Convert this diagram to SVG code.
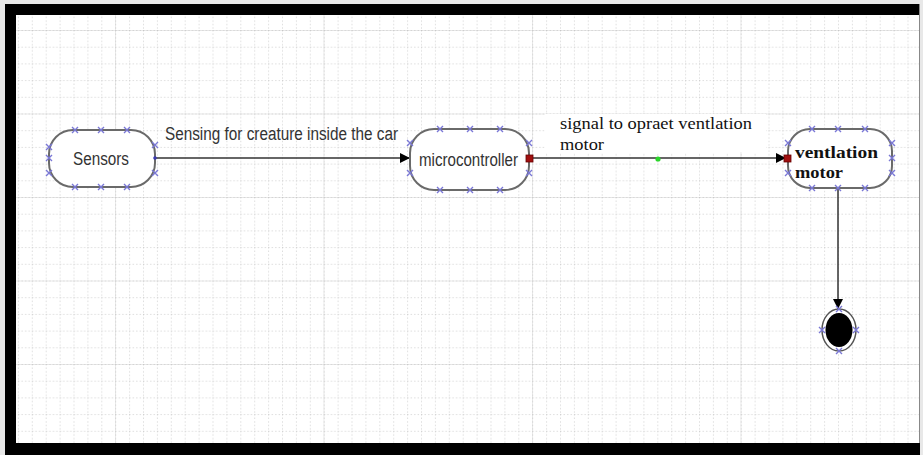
<svg xmlns="http://www.w3.org/2000/svg" width="923" height="455" viewBox="0 0 923 455">
  <defs>
    <pattern id="grid" x="4" y="13.3" width="13.9" height="16.7" patternUnits="userSpaceOnUse">
      <path d="M0 0 V16.7 M0 0 H13.9" fill="none" stroke="#bcbcbc" stroke-width="1" stroke-dasharray="1.5 2"/>
    </pattern>
    <pattern id="major" x="115" y="30" width="208.5" height="83.5" patternUnits="userSpaceOnUse">
      <path d="M0 0 V83.5 M0 0 H208.5" fill="none" stroke="#e4e4e4" stroke-width="1.5"/>
    </pattern>
    <marker id="arrow" viewBox="0 0 10 10" refX="10" refY="5" markerWidth="10" markerHeight="10" markerUnits="userSpaceOnUse" orient="auto">
      <path d="M0 0 L10 5 L0 10 Z" fill="#000"/>
    </marker>
    <g id="px">
      <path d="M-3 -3 L3 3 M-3 3 L3 -3" stroke="#7a78d6" stroke-width="1.4" fill="none"/>
    </g>
  </defs>
  <style>
    .state { fill: #fff; stroke: #6a6a6a; stroke-width: 2; }
    .sans { font-family: "Liberation Sans", Arial, sans-serif; font-size: 18px; fill: #333; }
    .serif { font-family: "Liberation Serif", "Times New Roman", serif; font-size: 16px; fill: #111; }
    .edge { fill: none; stroke: #333; stroke-width: 1.5; }
    .port { fill: #a01010; stroke: #600; stroke-width: 0.8; }
  </style>

  <!-- frame and canvas -->
  <rect x="0" y="0" width="923" height="455" fill="#e8e8e8"/>
  <rect x="5" y="4" width="915" height="451" fill="#000"/>
  <rect x="16" y="15" width="903" height="428" fill="#fff"/>
  <rect x="16" y="15" width="903" height="428" fill="url(#major)"/>
  <rect x="16" y="15" width="903" height="428" fill="url(#grid)"/>
  <line x1="919.5" y1="4" x2="919.5" y2="443" stroke="#888" stroke-width="1"/>

  <!-- connectors -->
  <g id="connectors">
    <line class="edge" x1="155" y1="158" x2="410" y2="158" marker-end="url(#arrow)"/>
    <text class="sans" x="165" y="140" textLength="233" lengthAdjust="spacingAndGlyphs">Sensing for creature inside the car</text>

    <line class="edge" x1="533" y1="158" x2="786" y2="158" marker-end="url(#arrow)"/>
    <rect x="545" y="114" width="221" height="38" fill="#fff"/>
    <text class="serif" x="560" y="129" textLength="192" lengthAdjust="spacingAndGlyphs">signal to opraet ventlation</text>
    <text class="serif" x="560" y="150" textLength="44" lengthAdjust="spacingAndGlyphs">motor</text>
    <circle cx="658" cy="159" r="2.6" fill="#2bd62b"/>

    <line class="edge" x1="838" y1="188" x2="838" y2="309" marker-end="url(#arrow)"/>
  </g>

  <!-- Sensors -->
  <g id="sensors">
    <rect class="state" x="49" y="130" width="106" height="57" rx="24" ry="24"/>
    <text class="sans" x="73" y="165" textLength="56" lengthAdjust="spacingAndGlyphs">Sensors</text>
    <use href="#px" x="75" y="130"/><use href="#px" x="101" y="130"/><use href="#px" x="127" y="130"/>
    <use href="#px" x="75" y="187"/><use href="#px" x="101" y="187"/><use href="#px" x="127" y="187"/>
    <use href="#px" x="49" y="147"/><use href="#px" x="49" y="158"/><use href="#px" x="49" y="173"/>
    <use href="#px" x="155" y="145"/><use href="#px" x="155" y="173"/>
    <circle cx="155" cy="158" r="1.8" fill="#3a38b0"/>
  </g>

  <!-- microcontroller -->
  <g id="microcontroller">
    <rect class="state" x="410" y="129" width="119" height="61" rx="24" ry="24"/>
    <text class="sans" x="419" y="166" textLength="99" lengthAdjust="spacingAndGlyphs">microcontroller</text>
    <use href="#px" x="440" y="129"/><use href="#px" x="470" y="129"/><use href="#px" x="500" y="129"/>
    <use href="#px" x="440" y="190"/><use href="#px" x="470" y="190"/><use href="#px" x="500" y="190"/>
    <use href="#px" x="410" y="143"/><use href="#px" x="410" y="173"/>
    <use href="#px" x="529" y="143"/><use href="#px" x="529" y="173"/>
    <rect class="port" x="526" y="155" width="7" height="7"/>
  </g>

  <!-- ventlation motor -->
  <g id="ventlation-motor">
    <rect class="state" x="788" y="129" width="104" height="59" rx="22" ry="22"/>
    <text class="serif" x="795" y="158" font-weight="bold" font-size="17" textLength="83" lengthAdjust="spacingAndGlyphs">ventlation</text>
    <text class="serif" x="795" y="178" font-weight="bold" font-size="17" textLength="48" lengthAdjust="spacingAndGlyphs">motor</text>
    <use href="#px" x="812" y="129"/><use href="#px" x="838" y="129"/><use href="#px" x="865" y="129"/>
    <use href="#px" x="812" y="188"/><use href="#px" x="838" y="188"/><use href="#px" x="865" y="188"/>
    <use href="#px" x="788" y="143"/><use href="#px" x="788" y="173"/>
    <use href="#px" x="892" y="143"/><use href="#px" x="892" y="158"/><use href="#px" x="892" y="173"/>
    <rect class="port" x="784" y="155" width="7" height="7"/>
  </g>

  <!-- final state -->
  <g id="final-state">
    <ellipse cx="839" cy="330" rx="17" ry="21" fill="#fff" stroke="#555" stroke-width="1.5"/>
    <ellipse cx="839" cy="330" rx="13.5" ry="17" fill="#000"/>
    <use href="#px" x="839" y="309"/><use href="#px" x="839" y="351"/>
    <use href="#px" x="822" y="330"/><use href="#px" x="856" y="330"/>
  </g>
</svg>
